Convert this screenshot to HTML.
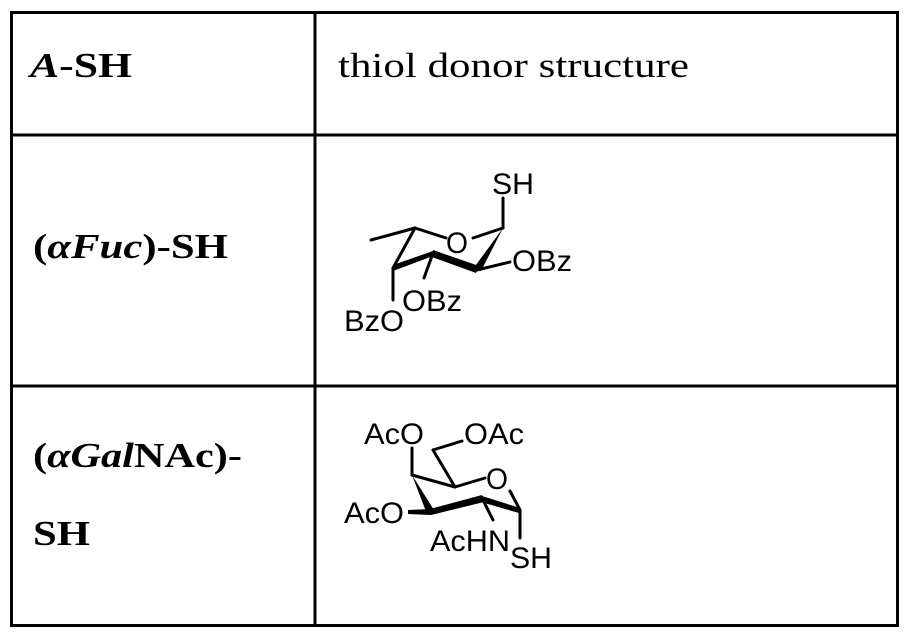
<!DOCTYPE html>
<html><head><meta charset="utf-8"><style>html,body{margin:0;padding:0;background:#fff}svg{display:block}</style></head>
<body>
<svg width="910" height="638" viewBox="0 0 910 638" xmlns="http://www.w3.org/2000/svg">
<g stroke="#000" stroke-width="3" fill="none">
<rect x="11.5" y="12.5" width="886" height="613"/>
<line x1="315" y1="12" x2="315" y2="626"/>
<line x1="11" y1="135" x2="898" y2="135"/>
<line x1="11" y1="386" x2="898" y2="386"/>
</g>
<g font-family="'Liberation Serif', serif" font-size="35" fill="#000">
<text x="30" y="77" font-weight="bold" textLength="102" lengthAdjust="spacingAndGlyphs"><tspan font-style="italic">A</tspan>-SH</text>
<text x="338" y="77" textLength="351" lengthAdjust="spacingAndGlyphs">thiol donor structure</text>
<text x="33" y="258" font-weight="bold" textLength="195" lengthAdjust="spacingAndGlyphs">(<tspan font-style="italic">αFuc</tspan>)-SH</text>
<text x="33" y="467" font-weight="bold" textLength="209" lengthAdjust="spacingAndGlyphs">(<tspan font-style="italic">αGal</tspan>NAc)-</text>
<text x="33" y="545" font-weight="bold" textLength="57" lengthAdjust="spacingAndGlyphs">SH</text>
</g>
<!-- Fucose -->
<g stroke="#000" stroke-width="3" fill="none" stroke-linecap="round">
<line x1="503" y1="228" x2="503" y2="198"/>
<line x1="415" y1="228" x2="446" y2="238"/>
<line x1="473" y1="238" x2="503" y2="228"/>
<line x1="415" y1="228" x2="371" y2="240"/>
<line x1="415" y1="228" x2="393" y2="268"/>
<line x1="477" y1="270" x2="510" y2="262"/>
<line x1="433" y1="253" x2="424" y2="278"/>
<line x1="393" y1="268" x2="393" y2="300"/>
</g>
<g fill="#000">
<polygon points="503,228 473,269 481,271"/>
<polygon points="433,250 479,266 476,273 432,257"/>
<polygon points="433,251 393,265 393,271 433,256"/>
</g>
<g font-family="'Liberation Sans', sans-serif" font-size="30" fill="#000">
<text x="492" y="194" textLength="42" lengthAdjust="spacingAndGlyphs">SH</text>
<text x="446" y="253" textLength="22" lengthAdjust="spacingAndGlyphs">O</text>
<text x="512" y="271" textLength="60" lengthAdjust="spacingAndGlyphs">OBz</text>
<text x="402" y="311" textLength="60" lengthAdjust="spacingAndGlyphs">OBz</text>
<text x="344" y="331" textLength="60" lengthAdjust="spacingAndGlyphs">BzO</text>
</g>
<!-- GalNAc -->
<g stroke="#000" stroke-width="3" fill="none" stroke-linecap="round">
<line x1="412" y1="475" x2="412" y2="448"/>
<line x1="412" y1="475" x2="455" y2="487"/>
<line x1="455" y1="487" x2="485" y2="478"/>
<line x1="455" y1="487" x2="433" y2="450"/>
<line x1="433" y1="450" x2="462" y2="441"/>
<line x1="520" y1="510" x2="510" y2="491"/>
<line x1="520" y1="510" x2="520" y2="538"/>
<line x1="482" y1="498" x2="493" y2="520"/>
</g>
<g fill="#000">
<polygon points="412,475 427,514 434,510"/>
<polygon points="430,509 482,495 484,502 431,515"/>
<polygon points="408,510 431,509 431,515 408,514"/>
<polygon points="482,496 520,508 519,513 481,502"/>
</g>
<g font-family="'Liberation Sans', sans-serif" font-size="30" fill="#000">
<text x="364" y="444" textLength="60" lengthAdjust="spacingAndGlyphs">AcO</text>
<text x="464" y="444" textLength="60" lengthAdjust="spacingAndGlyphs">OAc</text>
<text x="486" y="489" textLength="22" lengthAdjust="spacingAndGlyphs">O</text>
<text x="344" y="523" textLength="60" lengthAdjust="spacingAndGlyphs">AcO</text>
<text x="430" y="551" textLength="80" lengthAdjust="spacingAndGlyphs">AcHN</text>
<text x="510" y="568" textLength="42" lengthAdjust="spacingAndGlyphs">SH</text>
</g>
</svg>
</body></html>
